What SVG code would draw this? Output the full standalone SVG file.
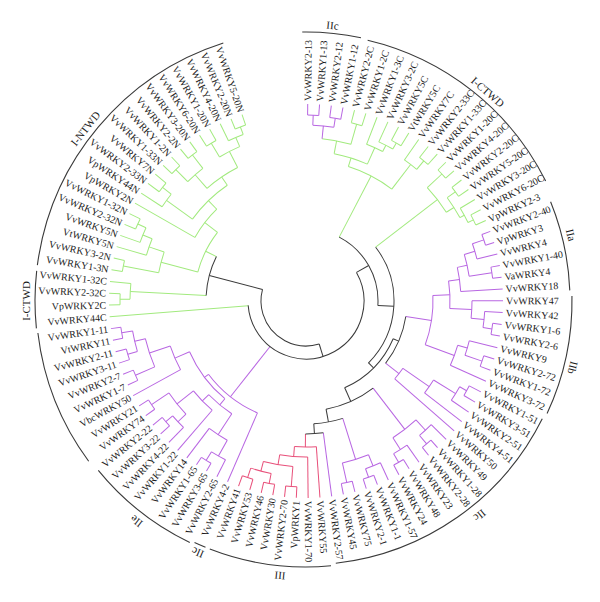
<svg xmlns="http://www.w3.org/2000/svg" width="600" height="602" viewBox="0 0 600 602">
<style>
.t{font-family:"Liberation Serif","Times New Roman",serif;font-size:10px;fill:#1a1a1a}
.e{text-anchor:end}
.gl{font-family:"Liberation Serif","Times New Roman",serif;font-size:11px;fill:#1a1a1a;text-anchor:middle}
path,circle{fill:none;stroke-width:1}
.G path,.G circle{stroke:#a2ea7e}
.P path,.P circle{stroke:#b866e2}
.R path,.R circle{stroke:#e8507a}
.K path,.K circle{stroke:#3a3a3a}
.A circle{stroke:#3a3a3a;stroke-width:1.1}
</style>
<rect width="600" height="602" fill="#fff"/>
<g transform="translate(306,301) rotate(-90)">
<g id="connectors">
<g class="G">
<path d="M184 0H197" transform="rotate(14.26)"/><path d="M184 0H197" transform="rotate(17.7)"/>
<path d="M163 0H184" transform="rotate(15.98)"/>
<path d="M182 0H197" transform="rotate(28.02)"/><path d="M182 0H197" transform="rotate(31.46)"/>
<path d="M175 0H197" transform="rotate(24.58)"/><path d="M175 0H182" transform="rotate(29.74)"/>
<path d="M168 0H197" transform="rotate(21.14)"/><path d="M168 0H175" transform="rotate(27.16)"/>
<path d="M150 0H163" transform="rotate(10.82)"/><path d="M150 0H168" transform="rotate(24.15)"/>
<path d="M183 0H197" transform="rotate(38.34)"/><path d="M183 0H197" transform="rotate(41.78)"/>
<path d="M172 0H197" transform="rotate(34.9)"/><path d="M172 0H183" transform="rotate(40.06)"/>
<path d="M141 0H150" transform="rotate(17.49)"/><path d="M141 0H172" transform="rotate(37.48)"/>
<path d="M72 0H141" transform="rotate(27.49)"/>
<path d="M186 0H197" transform="rotate(45.22)"/><path d="M186 0H197" transform="rotate(48.66)"/>
<path d="M185 0H197" transform="rotate(52.1)"/><path d="M185 0H197" transform="rotate(55.54)"/>
<path d="M186 0H197" transform="rotate(62.42)"/><path d="M186 0H197" transform="rotate(65.86)"/>
<path d="M180 0H197" transform="rotate(58.98)"/><path d="M180 0H186" transform="rotate(64.14)"/>
<path d="M175 0H185" transform="rotate(53.82)"/><path d="M175 0H180" transform="rotate(61.56)"/>
<path d="M166 0H186" transform="rotate(46.94)"/><path d="M166 0H175" transform="rotate(57.69)"/>
<path d="M88 0H166" transform="rotate(52.32)"/>
<path d="M58 0H197" transform="rotate(265.38)"/>
<path d="M186 0H197" transform="rotate(268.82)"/><path d="M186 0H197" transform="rotate(272.26)"/>
<path d="M176 0H186" transform="rotate(270.54)"/><path d="M176 0H197" transform="rotate(275.7)"/>
<path d="M100 0H176" transform="rotate(273.12)"/><path d="M100 0H112" transform="rotate(296.37)"/>
<path d="M186 0H197" transform="rotate(279.14)"/><path d="M186 0H197" transform="rotate(282.58)"/>
<path d="M185 0H197" transform="rotate(292.9)"/><path d="M185 0H197" transform="rotate(296.34)"/>
<path d="M176 0H197" transform="rotate(289.46)"/><path d="M176 0H185" transform="rotate(294.62)"/>
<path d="M166 0H197" transform="rotate(286.02)"/><path d="M166 0H176" transform="rotate(292.04)"/>
<path d="M150 0H186" transform="rotate(280.86)"/><path d="M150 0H166" transform="rotate(289.03)"/>
<path d="M183 0H197" transform="rotate(306.66)"/><path d="M183 0H197" transform="rotate(310.1)"/>
<path d="M172 0H197" transform="rotate(303.22)"/><path d="M172 0H183" transform="rotate(308.38)"/>
<path d="M185 0H197" transform="rotate(313.54)"/><path d="M185 0H197" transform="rotate(316.98)"/>
<path d="M185 0H197" transform="rotate(320.42)"/><path d="M185 0H197" transform="rotate(323.86)"/>
<path d="M168 0H185" transform="rotate(315.26)"/><path d="M168 0H185" transform="rotate(322.14)"/>
<path d="M184 0H197" transform="rotate(327.3)"/><path d="M184 0H197" transform="rotate(330.74)"/>
<path d="M186 0H197" transform="rotate(337.62)"/><path d="M186 0H197" transform="rotate(341.06)"/>
<path d="M178 0H197" transform="rotate(334.18)"/><path d="M178 0H186" transform="rotate(339.34)"/>
<path d="M168 0H184" transform="rotate(329.02)"/><path d="M168 0H178" transform="rotate(336.76)"/>
<path d="M150 0H168" transform="rotate(318.7)"/><path d="M150 0H168" transform="rotate(332.89)"/>
<path d="M140 0H172" transform="rotate(305.8)"/><path d="M140 0H150" transform="rotate(325.8)"/>
<path d="M128 0H197" transform="rotate(299.78)"/><path d="M128 0H140" transform="rotate(315.8)"/>
<path d="M112 0H150" transform="rotate(284.95)"/><path d="M112 0H128" transform="rotate(307.79)"/>
<circle r="184" transform="rotate(14.26)" stroke-dasharray="11.05 2000"/>
<circle r="163" transform="rotate(5.66)" stroke-dasharray="29.36 2000"/>
<circle r="182" transform="rotate(28.02)" stroke-dasharray="10.93 2000"/>
<circle r="175" transform="rotate(24.58)" stroke-dasharray="15.76 2000"/>
<circle r="168" transform="rotate(21.14)" stroke-dasharray="17.65 2000"/>
<circle r="150" transform="rotate(10.82)" stroke-dasharray="34.9 2000"/>
<circle r="183" transform="rotate(38.34)" stroke-dasharray="10.99 2000"/>
<circle r="172" transform="rotate(34.9)" stroke-dasharray="15.49 2000"/>
<circle r="141" transform="rotate(17.49)" stroke-dasharray="49.19 2000"/>
<circle r="186" transform="rotate(45.22)" stroke-dasharray="11.17 2000"/>
<circle r="185" transform="rotate(52.1)" stroke-dasharray="11.11 2000"/>
<circle r="186" transform="rotate(62.42)" stroke-dasharray="11.17 2000"/>
<circle r="180" transform="rotate(58.98)" stroke-dasharray="16.21 2000"/>
<circle r="175" transform="rotate(53.82)" stroke-dasharray="23.64 2000"/>
<circle r="166" transform="rotate(46.94)" stroke-dasharray="31.15 2000"/>
<circle r="186" transform="rotate(268.82)" stroke-dasharray="11.17 2000"/>
<circle r="176" transform="rotate(270.54)" stroke-dasharray="15.85 2000"/>
<circle r="186" transform="rotate(279.14)" stroke-dasharray="11.17 2000"/>
<circle r="185" transform="rotate(292.9)" stroke-dasharray="11.11 2000"/>
<circle r="176" transform="rotate(289.46)" stroke-dasharray="15.85 2000"/>
<circle r="166" transform="rotate(286.02)" stroke-dasharray="17.44 2000"/>
<circle r="150" transform="rotate(280.86)" stroke-dasharray="21.39 2000"/>
<circle r="183" transform="rotate(306.66)" stroke-dasharray="10.99 2000"/>
<circle r="172" transform="rotate(303.22)" stroke-dasharray="15.49 2000"/>
<circle r="185" transform="rotate(313.54)" stroke-dasharray="11.11 2000"/>
<circle r="185" transform="rotate(320.42)" stroke-dasharray="11.11 2000"/>
<circle r="168" transform="rotate(315.26)" stroke-dasharray="20.17 2000"/>
<circle r="184" transform="rotate(327.3)" stroke-dasharray="11.05 2000"/>
<circle r="186" transform="rotate(337.62)" stroke-dasharray="11.17 2000"/>
<circle r="178" transform="rotate(334.18)" stroke-dasharray="16.03 2000"/>
<circle r="168" transform="rotate(329.02)" stroke-dasharray="22.69 2000"/>
<circle r="150" transform="rotate(318.7)" stroke-dasharray="37.15 2000"/>
<circle r="140" transform="rotate(305.8)" stroke-dasharray="48.87 2000"/>
<circle r="128" transform="rotate(299.78)" stroke-dasharray="35.79 2000"/>
<circle r="112" transform="rotate(284.95)" stroke-dasharray="44.65 2000"/>
</g>
<g class="P">
<path d="M186 0H197" transform="rotate(0.5)"/><path d="M186 0H197" transform="rotate(3.94)"/>
<path d="M185 0H197" transform="rotate(7.38)"/><path d="M185 0H197" transform="rotate(10.82)"/>
<path d="M176 0H186" transform="rotate(2.22)"/><path d="M176 0H185" transform="rotate(9.1)"/>
<path d="M163 0H176" transform="rotate(5.66)"/>
<path d="M188 0H197" transform="rotate(69.3)"/><path d="M188 0H197" transform="rotate(72.74)"/>
<path d="M176 0H188" transform="rotate(71.02)"/><path d="M176 0H197" transform="rotate(76.18)"/>
<path d="M188 0H197" transform="rotate(79.62)"/><path d="M188 0H197" transform="rotate(83.06)"/>
<path d="M165 0H176" transform="rotate(73.6)"/><path d="M165 0H188" transform="rotate(81.34)"/>
<path d="M155 0H165" transform="rotate(77.47)"/><path d="M155 0H197" transform="rotate(86.5)"/>
<path d="M188 0H197" transform="rotate(96.82)"/><path d="M188 0H197" transform="rotate(100.26)"/>
<path d="M179 0H197" transform="rotate(93.38)"/><path d="M179 0H188" transform="rotate(98.54)"/>
<path d="M166 0H197" transform="rotate(89.94)"/><path d="M166 0H179" transform="rotate(95.96)"/>
<path d="M144 0H155" transform="rotate(81.99)"/><path d="M144 0H166" transform="rotate(92.95)"/>
<path d="M186 0H197" transform="rotate(107.14)"/><path d="M186 0H197" transform="rotate(110.58)"/>
<path d="M168 0H197" transform="rotate(103.7)"/><path d="M168 0H186" transform="rotate(108.86)"/>
<path d="M158 0H168" transform="rotate(106.28)"/><path d="M158 0H197" transform="rotate(114.02)"/>
<path d="M127 0H144" transform="rotate(87.47)"/><path d="M127 0H158" transform="rotate(110.15)"/>
<path d="M101 0H127" transform="rotate(98.81)"/><path d="M101 0H118" transform="rotate(128)"/>
<path d="M184 0H197" transform="rotate(117.46)"/><path d="M184 0H197" transform="rotate(120.9)"/>
<path d="M176 0H184" transform="rotate(119.18)"/><path d="M176 0H197" transform="rotate(124.34)"/>
<path d="M150 0H176" transform="rotate(121.76)"/><path d="M150 0H197" transform="rotate(127.78)"/>
<path d="M118 0H150" transform="rotate(124.77)"/><path d="M118 0H197" transform="rotate(131.22)"/>
<path d="M187 0H197" transform="rotate(138.1)"/><path d="M187 0H197" transform="rotate(141.54)"/>
<path d="M176 0H197" transform="rotate(134.66)"/><path d="M176 0H187" transform="rotate(139.82)"/>
<path d="M186 0H197" transform="rotate(148.42)"/><path d="M186 0H197" transform="rotate(151.86)"/>
<path d="M176 0H197" transform="rotate(144.98)"/><path d="M176 0H186" transform="rotate(150.14)"/>
<path d="M162 0H176" transform="rotate(137.24)"/><path d="M162 0H176" transform="rotate(147.56)"/>
<path d="M110 0H162" transform="rotate(142.4)"/>
<path d="M187 0H197" transform="rotate(158.74)"/><path d="M187 0H197" transform="rotate(162.18)"/>
<path d="M178 0H197" transform="rotate(155.3)"/><path d="M178 0H187" transform="rotate(160.46)"/>
<path d="M186 0H197" transform="rotate(165.62)"/><path d="M186 0H197" transform="rotate(169.06)"/>
<path d="M166 0H178" transform="rotate(157.88)"/><path d="M166 0H186" transform="rotate(167.34)"/>
<path d="M123 0H166" transform="rotate(162.61)"/>
<path d="M133 0H197" transform="rotate(172.5)"/>
<path d="M58 0H122" transform="rotate(218.27)"/>
<path d="M122 0H197" transform="rotate(203.46)"/><path d="M122 0H127" transform="rotate(233.08)"/>
<path d="M127 0H135" transform="rotate(219.7)"/><path d="M127 0H143" transform="rotate(246.46)"/>
<path d="M188 0H197" transform="rotate(210.34)"/><path d="M188 0H197" transform="rotate(213.78)"/>
<path d="M178 0H197" transform="rotate(206.9)"/><path d="M178 0H188" transform="rotate(212.06)"/>
<path d="M160 0H178" transform="rotate(209.48)"/><path d="M160 0H197" transform="rotate(217.22)"/>
<path d="M135 0H160" transform="rotate(213.35)"/><path d="M135 0H144" transform="rotate(226.04)"/>
<path d="M186 0H197" transform="rotate(234.42)"/><path d="M186 0H197" transform="rotate(237.86)"/>
<path d="M185 0H197" transform="rotate(227.54)"/><path d="M185 0H197" transform="rotate(230.98)"/>
<path d="M176 0H197" transform="rotate(224.1)"/><path d="M176 0H185" transform="rotate(229.26)"/>
<path d="M165 0H176" transform="rotate(226.68)"/><path d="M165 0H186" transform="rotate(236.14)"/>
<path d="M144 0H197" transform="rotate(220.66)"/><path d="M144 0H165" transform="rotate(231.41)"/>
<path d="M187 0H197" transform="rotate(258.5)"/><path d="M187 0H197" transform="rotate(261.94)"/>
<path d="M186 0H197" transform="rotate(251.62)"/><path d="M186 0H197" transform="rotate(255.06)"/>
<path d="M176 0H186" transform="rotate(253.34)"/><path d="M176 0H187" transform="rotate(260.22)"/>
<path d="M186 0H197" transform="rotate(244.74)"/><path d="M186 0H197" transform="rotate(248.18)"/>
<path d="M165 0H186" transform="rotate(246.46)"/><path d="M165 0H176" transform="rotate(256.78)"/>
<path d="M143 0H197" transform="rotate(241.3)"/><path d="M143 0H165" transform="rotate(251.62)"/>
<circle r="186" transform="rotate(0.5)" stroke-dasharray="11.17 2000"/>
<circle r="185" transform="rotate(7.38)" stroke-dasharray="11.11 2000"/>
<circle r="176" transform="rotate(2.22)" stroke-dasharray="21.13 2000"/>
<circle r="188" transform="rotate(69.3)" stroke-dasharray="11.29 2000"/>
<circle r="176" transform="rotate(71.02)" stroke-dasharray="15.85 2000"/>
<circle r="188" transform="rotate(79.62)" stroke-dasharray="11.29 2000"/>
<circle r="165" transform="rotate(73.6)" stroke-dasharray="22.29 2000"/>
<circle r="155" transform="rotate(77.47)" stroke-dasharray="24.43 2000"/>
<circle r="188" transform="rotate(96.82)" stroke-dasharray="11.29 2000"/>
<circle r="179" transform="rotate(93.38)" stroke-dasharray="16.12 2000"/>
<circle r="166" transform="rotate(89.94)" stroke-dasharray="17.44 2000"/>
<circle r="144" transform="rotate(81.99)" stroke-dasharray="27.55 2000"/>
<circle r="186" transform="rotate(107.14)" stroke-dasharray="11.17 2000"/>
<circle r="168" transform="rotate(103.7)" stroke-dasharray="15.13 2000"/>
<circle r="158" transform="rotate(106.28)" stroke-dasharray="21.34 2000"/>
<circle r="127" transform="rotate(87.47)" stroke-dasharray="50.27 2000"/>
<circle r="184" transform="rotate(117.46)" stroke-dasharray="11.05 2000"/>
<circle r="176" transform="rotate(119.18)" stroke-dasharray="15.85 2000"/>
<circle r="150" transform="rotate(121.76)" stroke-dasharray="15.76 2000"/>
<circle r="118" transform="rotate(124.77)" stroke-dasharray="13.28 2000"/>
<circle r="187" transform="rotate(138.1)" stroke-dasharray="11.23 2000"/>
<circle r="176" transform="rotate(134.66)" stroke-dasharray="15.85 2000"/>
<circle r="186" transform="rotate(148.42)" stroke-dasharray="11.17 2000"/>
<circle r="176" transform="rotate(144.98)" stroke-dasharray="15.85 2000"/>
<circle r="162" transform="rotate(137.24)" stroke-dasharray="29.18 2000"/>
<circle r="187" transform="rotate(158.74)" stroke-dasharray="11.23 2000"/>
<circle r="178" transform="rotate(155.3)" stroke-dasharray="16.03 2000"/>
<circle r="186" transform="rotate(165.62)" stroke-dasharray="11.17 2000"/>
<circle r="166" transform="rotate(157.88)" stroke-dasharray="27.41 2000"/>
<circle r="122" transform="rotate(203.46)" stroke-dasharray="63.07 2000"/>
<circle r="127" transform="rotate(219.7)" stroke-dasharray="59.31 2000"/>
<circle r="188" transform="rotate(210.34)" stroke-dasharray="11.29 2000"/>
<circle r="178" transform="rotate(206.9)" stroke-dasharray="16.03 2000"/>
<circle r="160" transform="rotate(209.48)" stroke-dasharray="21.61 2000"/>
<circle r="135" transform="rotate(213.35)" stroke-dasharray="29.9 2000"/>
<circle r="186" transform="rotate(234.42)" stroke-dasharray="11.17 2000"/>
<circle r="185" transform="rotate(227.54)" stroke-dasharray="11.11 2000"/>
<circle r="176" transform="rotate(224.1)" stroke-dasharray="15.85 2000"/>
<circle r="165" transform="rotate(226.68)" stroke-dasharray="27.24 2000"/>
<circle r="144" transform="rotate(220.66)" stroke-dasharray="27.02 2000"/>
<circle r="187" transform="rotate(258.5)" stroke-dasharray="11.23 2000"/>
<circle r="186" transform="rotate(251.62)" stroke-dasharray="11.17 2000"/>
<circle r="176" transform="rotate(253.34)" stroke-dasharray="21.13 2000"/>
<circle r="186" transform="rotate(244.74)" stroke-dasharray="11.17 2000"/>
<circle r="165" transform="rotate(246.46)" stroke-dasharray="29.72 2000"/>
<circle r="143" transform="rotate(241.3)" stroke-dasharray="25.76 2000"/>
</g>
<g class="R">
<path d="M186 0H197" transform="rotate(196.58)"/><path d="M186 0H197" transform="rotate(200.02)"/>
<path d="M186 0H197" transform="rotate(189.7)"/><path d="M186 0H197" transform="rotate(193.14)"/>
<path d="M176 0H186" transform="rotate(191.42)"/><path d="M176 0H186" transform="rotate(198.3)"/>
<path d="M186 0H197" transform="rotate(182.82)"/><path d="M186 0H197" transform="rotate(186.26)"/>
<path d="M166 0H186" transform="rotate(184.54)"/><path d="M166 0H176" transform="rotate(194.86)"/>
<path d="M156 0H197" transform="rotate(179.38)"/><path d="M156 0H166" transform="rotate(189.7)"/>
<path d="M146 0H197" transform="rotate(175.94)"/><path d="M146 0H156" transform="rotate(184.54)"/>
<path d="M133 0H146" transform="rotate(180.24)"/>
<circle r="186" transform="rotate(196.58)" stroke-dasharray="11.17 2000"/>
<circle r="186" transform="rotate(189.7)" stroke-dasharray="11.17 2000"/>
<circle r="176" transform="rotate(191.42)" stroke-dasharray="21.13 2000"/>
<circle r="186" transform="rotate(182.82)" stroke-dasharray="11.17 2000"/>
<circle r="166" transform="rotate(184.54)" stroke-dasharray="29.9 2000"/>
<circle r="156" transform="rotate(179.38)" stroke-dasharray="28.1 2000"/>
<circle r="146" transform="rotate(175.94)" stroke-dasharray="21.91 2000"/>
</g>
<g class="K">
<path d="M45 0H58" transform="rotate(162.94)"/><path d="M45 0H100" transform="rotate(284.75)"/>
<path d="M58 0H72" transform="rotate(60.5)"/>
<path d="M72 0H88" transform="rotate(93.5)"/>
<path d="M88 0H95" transform="rotate(134.68)"/>
<path d="M95 0H101" transform="rotate(113.4)"/><path d="M95 0H110" transform="rotate(155.95)"/>
<path d="M110 0H123" transform="rotate(169.49)"/>
<path d="M123 0H133" transform="rotate(176.37)"/>
<circle r="133" transform="rotate(172.5)" stroke-dasharray="17.97 2000"/>
<circle r="123" transform="rotate(162.61)" stroke-dasharray="29.54 2000"/>
<circle r="110" transform="rotate(142.4)" stroke-dasharray="52.01 2000"/>
<circle r="101" transform="rotate(98.81)" stroke-dasharray="51.45 2000"/>
<circle r="95" transform="rotate(113.4)" stroke-dasharray="70.55 2000"/>
<circle r="88" transform="rotate(52.32)" stroke-dasharray="126.5 2000"/>
<circle r="72" transform="rotate(27.49)" stroke-dasharray="82.95 2000"/>
<circle r="58" transform="rotate(60.5)" stroke-dasharray="207.39 2000"/>
<circle r="45" transform="rotate(162.94)" stroke-dasharray="95.67 2000"/>
<circle r="100" transform="rotate(273.12)" stroke-dasharray="40.58 2000"/>
</g>
</g>
<g id="groups" class="A">
<circle r="269" transform="rotate(-0.8)" stroke-dasharray="59.16 2000"/>
<circle r="268" transform="rotate(13.3)" stroke-dasharray="234.34 2000"/>
<circle r="264" transform="rotate(67.9)" stroke-dasharray="91.23 2000"/>
<circle r="266" transform="rotate(88.9)" stroke-dasharray="121.17 2000"/>
<circle r="264" transform="rotate(116.5)" stroke-dasharray="262.63 2000"/>
<circle r="266" transform="rotate(174.6)" stroke-dasharray="123.49 2000"/>
<circle r="266" transform="rotate(202.2)" stroke-dasharray="12.07 2000"/>
<circle r="268" transform="rotate(205.7)" stroke-dasharray="117.41 2000"/>
<circle r="270" transform="rotate(233.6)" stroke-dasharray="139.48 2000"/>
<circle r="271" transform="rotate(264.2)" stroke-dasharray="57.7 2000"/>
<circle r="271" transform="rotate(277.6)" stroke-dasharray="305.55 2000"/>
<text class="gl" transform="rotate(5.5) translate(277) rotate(90)" dy=".35em">IIc</text>
<text class="gl" transform="rotate(41) translate(277) rotate(90)" dy=".35em">I-CTWD</text>
<text class="gl" transform="rotate(76) translate(273) rotate(90)" dy=".35em">IIa</text>
<text class="gl" transform="rotate(104) translate(275) rotate(90)" dy=".35em">IIb</text>
<text class="gl" transform="rotate(141) translate(276) rotate(90)" dy=".35em">IIc</text>
<text class="gl" transform="rotate(185.4) translate(276) rotate(90)" dy=".35em">III</text>
<text class="gl" transform="rotate(203.3) translate(274) rotate(90)" dy=".35em">IIc</text>
<text class="gl" transform="rotate(217.6) translate(278) rotate(90)" dy=".35em">IIe</text>
<text class="gl" transform="rotate(270) translate(280) rotate(90)" dy=".35em">I-CTWD</text>
<text class="gl" transform="rotate(308) translate(280) rotate(90)" dy=".35em">I-NTWD</text>
</g>
<g id="n0"><text class="t" transform="rotate(0.5) translate(200)" dy=".35em">VvWRKY2-13</text></g>
<g id="n1"><text class="t" transform="rotate(3.94) translate(200)" dy=".35em">VvWRKY1-13</text></g>
<g id="n2"><text class="t" transform="rotate(7.38) translate(200)" dy=".35em">VvWRKY2-12</text></g>
<g id="n3"><text class="t" transform="rotate(10.82) translate(200)" dy=".35em">VvWRKY1-12</text></g>
<g id="n4"><text class="t" transform="rotate(14.26) translate(200)" dy=".35em">VvWRKY2-2C</text></g>
<g id="n5"><text class="t" transform="rotate(17.7) translate(200)" dy=".35em">VvWRKY1-2C</text></g>
<g id="n6"><text class="t" transform="rotate(21.14) translate(200)" dy=".35em">VvWRKY1-3C</text></g>
<g id="n7"><text class="t" transform="rotate(24.58) translate(200)" dy=".35em">VvWRKY3-2C</text></g>
<g id="n8"><text class="t" transform="rotate(28.02) translate(200)" dy=".35em">VvWRKY5C</text></g>
<g id="n9"><text class="t" transform="rotate(31.46) translate(200)" dy=".35em">VtWRKY5C</text></g>
<g id="n10"><text class="t" transform="rotate(34.9) translate(200)" dy=".35em">VvWRKY7C</text></g>
<g id="n11"><text class="t" transform="rotate(38.34) translate(200)" dy=".35em">VvWRKY2-33C</text></g>
<g id="n12"><text class="t" transform="rotate(41.78) translate(200)" dy=".35em">VvWRKY1-33C</text></g>
<g id="n13"><text class="t" transform="rotate(45.22) translate(200)" dy=".35em">VvWRKY1-20C</text></g>
<g id="n14"><text class="t" transform="rotate(48.66) translate(200)" dy=".35em">VvWRKY4-20C</text></g>
<g id="n15"><text class="t" transform="rotate(52.1) translate(200)" dy=".35em">VvWRKY2-20C</text></g>
<g id="n16"><text class="t" transform="rotate(55.54) translate(200)" dy=".35em">VvWRKY5-20C</text></g>
<g id="n17"><text class="t" transform="rotate(58.98) translate(200)" dy=".35em">VvWRKY3-20C</text></g>
<g id="n18"><text class="t" transform="rotate(62.42) translate(200)" dy=".35em">VvWRKY6-20C</text></g>
<g id="n19"><text class="t" transform="rotate(65.86) translate(200)" dy=".35em">VpWRKY2-3</text></g>
<g id="n20"><text class="t" transform="rotate(69.3) translate(200)" dy=".35em">VvWRKY2-40</text></g>
<g id="n21"><text class="t" transform="rotate(72.74) translate(200)" dy=".35em">VpWRKY3</text></g>
<g id="n22"><text class="t" transform="rotate(76.18) translate(200)" dy=".35em">VvWRKY4</text></g>
<g id="n23"><text class="t" transform="rotate(79.62) translate(200)" dy=".35em">VvWRKY1-40</text></g>
<g id="n24"><text class="t" transform="rotate(83.06) translate(200)" dy=".35em">VaWRKY4</text></g>
<g id="n25"><text class="t" transform="rotate(86.5) translate(200)" dy=".35em">VvWRKY18</text></g>
<g id="n26"><text class="t" transform="rotate(89.94) translate(200)" dy=".35em">VvWRKY47</text></g>
<g id="n27"><text class="t" transform="rotate(93.38) translate(200)" dy=".35em">VvWRKY42</text></g>
<g id="n28"><text class="t" transform="rotate(96.82) translate(200)" dy=".35em">VvWRKY1-6</text></g>
<g id="n29"><text class="t" transform="rotate(100.26) translate(200)" dy=".35em">VvWRKY2-6</text></g>
<g id="n30"><text class="t" transform="rotate(103.7) translate(200)" dy=".35em">VvWRKY9</text></g>
<g id="n31"><text class="t" transform="rotate(107.14) translate(200)" dy=".35em">VvWRKY2-72</text></g>
<g id="n32"><text class="t" transform="rotate(110.58) translate(200)" dy=".35em">VvWRKY1-72</text></g>
<g id="n33"><text class="t" transform="rotate(114.02) translate(200)" dy=".35em">VvWRKY3-72</text></g>
<g id="n34"><text class="t" transform="rotate(117.46) translate(200)" dy=".35em">VvWRKY1-51</text></g>
<g id="n35"><text class="t" transform="rotate(120.9) translate(200)" dy=".35em">VvWRKY3-51</text></g>
<g id="n36"><text class="t" transform="rotate(124.34) translate(200)" dy=".35em">VvWRKY2-51</text></g>
<g id="n37"><text class="t" transform="rotate(127.78) translate(200)" dy=".35em">VvWRKY4-51</text></g>
<g id="n38"><text class="t" transform="rotate(131.22) translate(200)" dy=".35em">VvWRKY50</text></g>
<g id="n39"><text class="t" transform="rotate(134.66) translate(200)" dy=".35em">VvWRKY49</text></g>
<g id="n40"><text class="t" transform="rotate(138.1) translate(200)" dy=".35em">VvWRKY1-28</text></g>
<g id="n41"><text class="t" transform="rotate(141.54) translate(200)" dy=".35em">VvWRKY2-28</text></g>
<g id="n42"><text class="t" transform="rotate(144.98) translate(200)" dy=".35em">VvWRKY23</text></g>
<g id="n43"><text class="t" transform="rotate(148.42) translate(200)" dy=".35em">VvWRKY48</text></g>
<g id="n44"><text class="t" transform="rotate(151.86) translate(200)" dy=".35em">VvWRKY24</text></g>
<g id="n45"><text class="t" transform="rotate(155.3) translate(200)" dy=".35em">VvWRKY1-57</text></g>
<g id="n46"><text class="t" transform="rotate(158.74) translate(200)" dy=".35em">VvWRKY1-1</text></g>
<g id="n47"><text class="t" transform="rotate(162.18) translate(200)" dy=".35em">VvWRKY2-1</text></g>
<g id="n48"><text class="t" transform="rotate(165.62) translate(200)" dy=".35em">VvWRKY75</text></g>
<g id="n49"><text class="t" transform="rotate(169.06) translate(200)" dy=".35em">VvWRKY45</text></g>
<g id="n50"><text class="t" transform="rotate(172.5) translate(200)" dy=".35em">VvWRKY2-57</text></g>
<g id="n51"><text class="t" transform="rotate(175.94) translate(200)" dy=".35em">VvWRKY55</text></g>
<g id="n52"><text class="t" transform="rotate(179.38) translate(200)" dy=".35em">VvWRKY1-70</text></g>
<g id="n53"><text class="t e" transform="rotate(182.82) translate(200) rotate(180)" dy=".35em">VpWRKY1</text></g>
<g id="n54"><text class="t e" transform="rotate(186.26) translate(200) rotate(180)" dy=".35em">VvWRKY2-70</text></g>
<g id="n55"><text class="t e" transform="rotate(189.7) translate(200) rotate(180)" dy=".35em">VvWRKY30</text></g>
<g id="n56"><text class="t e" transform="rotate(193.14) translate(200) rotate(180)" dy=".35em">VvWRKY46</text></g>
<g id="n57"><text class="t e" transform="rotate(196.58) translate(200) rotate(180)" dy=".35em">VvWRKY53</text></g>
<g id="n58"><text class="t e" transform="rotate(200.02) translate(200) rotate(180)" dy=".35em">VvWRKY41</text></g>
<g id="n59"><text class="t e" transform="rotate(203.46) translate(200) rotate(180)" dy=".35em">VvWRKY4-2</text></g>
<g id="n60"><text class="t e" transform="rotate(206.9) translate(200) rotate(180)" dy=".35em">VvWRKY2-65</text></g>
<g id="n61"><text class="t e" transform="rotate(210.34) translate(200) rotate(180)" dy=".35em">VvWRKY3-65</text></g>
<g id="n62"><text class="t e" transform="rotate(213.78) translate(200) rotate(180)" dy=".35em">VvWRKY1-65</text></g>
<g id="n63"><text class="t e" transform="rotate(217.22) translate(200) rotate(180)" dy=".35em">VvWRKY14</text></g>
<g id="n64"><text class="t e" transform="rotate(220.66) translate(200) rotate(180)" dy=".35em">VvWRKY1-22</text></g>
<g id="n65"><text class="t e" transform="rotate(224.1) translate(200) rotate(180)" dy=".35em">VvWRKY4-22</text></g>
<g id="n66"><text class="t e" transform="rotate(227.54) translate(200) rotate(180)" dy=".35em">VvWRKY3-22</text></g>
<g id="n67"><text class="t e" transform="rotate(230.98) translate(200) rotate(180)" dy=".35em">VvWRKY2-22</text></g>
<g id="n68"><text class="t e" transform="rotate(234.42) translate(200) rotate(180)" dy=".35em">VvWRKY74</text></g>
<g id="n69"><text class="t e" transform="rotate(237.86) translate(200) rotate(180)" dy=".35em">VvWRKY21</text></g>
<g id="n70"><text class="t e" transform="rotate(241.3) translate(200) rotate(180)" dy=".35em">VbcWRKY50</text></g>
<g id="n71"><text class="t e" transform="rotate(244.74) translate(200) rotate(180)" dy=".35em">VvWRKY1-7</text></g>
<g id="n72"><text class="t e" transform="rotate(248.18) translate(200) rotate(180)" dy=".35em">VvWRKY2-7</text></g>
<g id="n73"><text class="t e" transform="rotate(251.62) translate(200) rotate(180)" dy=".35em">VvWRKY3-11</text></g>
<g id="n74"><text class="t e" transform="rotate(255.06) translate(200) rotate(180)" dy=".35em">VvWRKY2-11</text></g>
<g id="n75"><text class="t e" transform="rotate(258.5) translate(200) rotate(180)" dy=".35em">VtWRKY11</text></g>
<g id="n76"><text class="t e" transform="rotate(261.94) translate(200) rotate(180)" dy=".35em">VvWRKY1-11</text></g>
<g id="n77"><text class="t e" transform="rotate(265.38) translate(200) rotate(180)" dy=".35em">VvWRKY44C</text></g>
<g id="n78"><text class="t e" transform="rotate(268.82) translate(200) rotate(180)" dy=".35em">VpWRKY2C</text></g>
<g id="n79"><text class="t e" transform="rotate(272.26) translate(200) rotate(180)" dy=".35em">VvWRKY2-32C</text></g>
<g id="n80"><text class="t e" transform="rotate(275.7) translate(200) rotate(180)" dy=".35em">VvWRKY1-32C</text></g>
<g id="n81"><text class="t e" transform="rotate(279.14) translate(200) rotate(180)" dy=".35em">VvWRKY1-3N</text></g>
<g id="n82"><text class="t e" transform="rotate(282.58) translate(200) rotate(180)" dy=".35em">VvWRKY3-2N</text></g>
<g id="n83"><text class="t e" transform="rotate(286.02) translate(200) rotate(180)" dy=".35em">VtWRKY5N</text></g>
<g id="n84"><text class="t e" transform="rotate(289.46) translate(200) rotate(180)" dy=".35em">VvWRKY5N</text></g>
<g id="n85"><text class="t e" transform="rotate(292.9) translate(200) rotate(180)" dy=".35em">VvWRKY2-32N</text></g>
<g id="n86"><text class="t e" transform="rotate(296.34) translate(200) rotate(180)" dy=".35em">VvWRKY1-32N</text></g>
<g id="n87"><text class="t e" transform="rotate(299.78) translate(200) rotate(180)" dy=".35em">VpWRKY2N</text></g>
<g id="n88"><text class="t e" transform="rotate(303.22) translate(200) rotate(180)" dy=".35em">VpWRKY44N</text></g>
<g id="n89"><text class="t e" transform="rotate(306.66) translate(200) rotate(180)" dy=".35em">VvWRKY2-33N</text></g>
<g id="n90"><text class="t e" transform="rotate(310.1) translate(200) rotate(180)" dy=".35em">VvWRKY7N</text></g>
<g id="n91"><text class="t e" transform="rotate(313.54) translate(200) rotate(180)" dy=".35em">VvWRKY1-33N</text></g>
<g id="n92"><text class="t e" transform="rotate(316.98) translate(200) rotate(180)" dy=".35em">VvWRKY1-2N</text></g>
<g id="n93"><text class="t e" transform="rotate(320.42) translate(200) rotate(180)" dy=".35em">VvWRKY2-2N</text></g>
<g id="n94"><text class="t e" transform="rotate(323.86) translate(200) rotate(180)" dy=".35em">VvWRKY3-20N</text></g>
<g id="n95"><text class="t e" transform="rotate(327.3) translate(200) rotate(180)" dy=".35em">VvWRKY6-20N</text></g>
<g id="n96"><text class="t e" transform="rotate(330.74) translate(200) rotate(180)" dy=".35em">VvWRKY1-20N</text></g>
<g id="n97"><text class="t e" transform="rotate(334.18) translate(200) rotate(180)" dy=".35em">VvWRKY4-20N</text></g>
<g id="n98"><text class="t e" transform="rotate(337.62) translate(200) rotate(180)" dy=".35em">VvWRKY2-20N</text></g>
<g id="n99"><text class="t e" transform="rotate(341.06) translate(200) rotate(180)" dy=".35em">VvWRKY5-20N</text></g>
</g>
</svg>
